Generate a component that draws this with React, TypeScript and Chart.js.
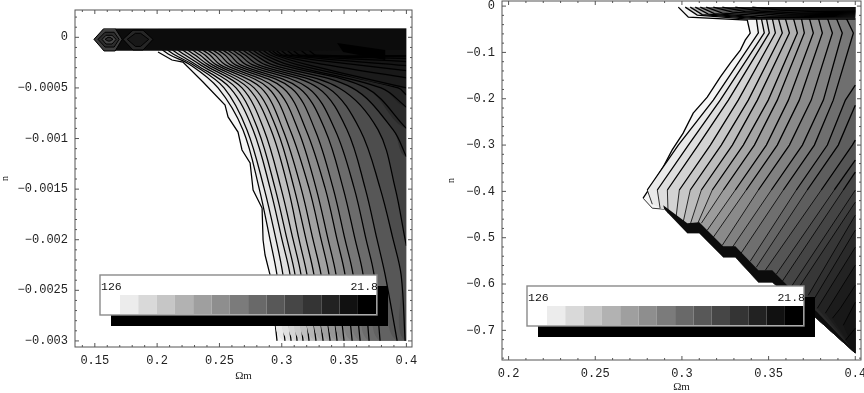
import React, { useEffect, useRef } from "react";
import { Chart, registerables } from "chart.js";

Chart.register(...registerables);

type P = [number, number];

// ---------- left panel: ticks ----------
const leftXTicks = [0.15, 0.2, 0.25, 0.3, 0.35, 0.4];
const leftXLabels = ["0.15", "0.2", "0.25", "0.3", "0.35", "0.4"];
const leftYTicks = [0, -0.0005, -0.001, -0.0015, -0.002, -0.0025, -0.003];
const leftYLabels = ["0", "\u22120.0005", "\u22120.001", "\u22120.0015", "\u22120.002", "\u22120.0025", "\u22120.003"];

// ---------- right panel: ticks ----------
const rightXTicks = [0.2, 0.25, 0.3, 0.35, 0.4];
const rightXLabels = ["0.2", "0.25", "0.3", "0.35", "0.4"];
const rightYTicks = [0, -0.1, -0.2, -0.3, -0.4, -0.5, -0.6, -0.7];
const rightYLabels = ["0", "\u22120.1", "\u22120.2", "\u22120.3", "\u22120.4", "\u22120.5", "\u22120.6", "\u22120.7"];

// ---------- colour key ----------
const keyShades = [255, 236, 217, 198, 178, 159, 142, 123, 105, 88, 70, 52, 34, 17, 0];
const keyHigh = "126";
const keyLow = "21.8";

// ---------- left panel: contours ----------
const leftOuter: P[] = [
  [0.2007, -0.000145], [0.2119, -0.000224], [0.2207, -0.000244], [0.2368, -0.000442], [0.2545, -0.000669],
  [0.2569, -0.000787], [0.2649, -0.000936], [0.2681, -0.001113], [0.2746, -0.001242], [0.277, -0.001509],
  [0.2842, -0.001687], [0.285, -0.002003], [0.2866, -0.002151], [0.2906, -0.002348], [0.2962, -0.003],
];
const leftRowN = [-0.000125, -0.000175, -0.00027, -0.0005, -0.000915, -0.00149, -0.002, -0.00235, -0.003];
const leftRows: number[][] = [
  [0.2043, 0.2103, 0.2264, 0.2489, 0.2689, 0.2818, 0.2906, 0.2962, 0.3026],
  [0.2083, 0.2143, 0.2288, 0.2537, 0.2721, 0.2858, 0.2954, 0.301, 0.3075],
  [0.2123, 0.2183, 0.2312, 0.2585, 0.277, 0.2906, 0.3002, 0.3067, 0.3123],
  [0.2164, 0.2224, 0.2344, 0.2633, 0.281, 0.2946, 0.3043, 0.3107, 0.3171],
  [0.2204, 0.2264, 0.2376, 0.2681, 0.2858, 0.2994, 0.3091, 0.3155, 0.3219],
  [0.2244, 0.2304, 0.2408, 0.2729, 0.2914, 0.3051, 0.3139, 0.3203, 0.3275],
  [0.2284, 0.2344, 0.244, 0.2778, 0.2962, 0.3099, 0.3195, 0.3259, 0.3332],
  [0.2324, 0.2384, 0.2472, 0.2834, 0.301, 0.3155, 0.3251, 0.3316, 0.3388],
  [0.2364, 0.2424, 0.2505, 0.289, 0.3067, 0.3219, 0.3316, 0.338, 0.3444],
  [0.2404, 0.2464, 0.2545, 0.2946, 0.3131, 0.3275, 0.3372, 0.3436, 0.35],
  [0.2445, 0.2505, 0.2585, 0.301, 0.3195, 0.3348, 0.3444, 0.3508, 0.3565],
  [0.2485, 0.2545, 0.2625, 0.3075, 0.3267, 0.3412, 0.3508, 0.3573, 0.3629],
  [0.2525, 0.2585, 0.2665, 0.3139, 0.3348, 0.3492, 0.3589, 0.3653, 0.3701],
  [0.2565, 0.2625, 0.2713, 0.3211, 0.3428, 0.3581, 0.3677, 0.3741, 0.3789],
  [0.2605, 0.2665, 0.2762, 0.3291, 0.3524, 0.3669, 0.3765, 0.383, 0.3926],
  [0.2645, 0.2705, 0.281, 0.3372, 0.3629, 0.3789, 0.3894, 0.3958, 0.399],
  [0.2686, 0.2746, 0.2866, 0.346, 0.3773, 0.391, 0.399],
  [0.2726, 0.2786, 0.2922, 0.3565, 0.3894],
  [0.2766, 0.2826, 0.2986, 0.3677],
  [0.2806, 0.2866, 0.3051, 0.3797],
  [0.2846, 0.2906, 0.3123, 0.3934],
  [0.2886, 0.2946, 0.3203],
  [0.2918, 0.2978, 0.3348],
  [0.295, 0.301, 0.3589],
  [0.2991, 0.3051],
  [0.3039, 0.3099],
  [0.3087, 0.3147],
  [0.3151, 0.3211],
  [0.3215, 0.3275],
];
const leftExitN: (number | null)[] = [
  null, null, null, null, null, null, null, null, null, null, null, null, null, null, null, null,
  -0.00206, -0.00118, -0.0009, -0.00069, -0.00057, -0.0005, -0.0004, -0.00033, -0.00028, -0.00024, -0.00021, -0.00019, -0.00018,
];
const leftGrays = [245, 234, 224, 213, 203, 192, 182, 171, 161, 150, 140, 129, 119, 108, 98, 87, 77, 66, 52, 42, 35, 30, 27, 25, 23, 21, 19, 17, 16, 15];
const leftTopBand: P[] = [
  [0.1493, -0.00002], [0.1576, -0.000132], [0.2007, -0.000132], [0.31, -0.000135], [0.36, -0.000125], [0.4, -0.000125],
  [0.4, 0.000089], [0.1576, 0.000089],
];
const leftLens: { gray: number; pts: P[] }[] = [
  { gray: 62, pts: [[0.1493, -0.00002], [0.1574, 0.00009], [0.1663, 0.00009], [0.1719, -0.00002], [0.1663, -0.000135], [0.1574, -0.000135]] },
  { gray: 44, pts: [[0.1526, -0.00002], [0.1582, 0.00005], [0.1655, 0.00005], [0.1695, -0.00002], [0.1655, -0.000096], [0.1582, -0.000096]] },
  { gray: 70, pts: [[0.1558, -0.00002], [0.159, 0.00002], [0.1638, 0.00002], [0.1671, -0.00002], [0.1638, -0.000066], [0.159, -0.000066]] },
  { gray: 44, pts: [[0.1582, -0.00002], [0.1606, 0], [0.1622, 0], [0.1646, -0.00002], [0.1622, -0.000037], [0.1606, -0.000037]] },
  { gray: 38, pts: [[0.1726, -0.00002], [0.1806, 0.00007], [0.1887, 0.00007], [0.1967, -0.00002], [0.1887, -0.000125], [0.1806, -0.000125]] },
  { gray: 24, pts: [[0.176, -0.00002], [0.1826, 0.00004], [0.1867, 0.00004], [0.1933, -0.00002], [0.1867, -0.00009], [0.1826, -0.00009]] },
  { gray: 0, pts: [[0.3444, -0.000056], [0.383, -0.000125], [0.383, -0.000224], [0.3492, -0.000145]] },
];

// ---------- right panel: contours ----------
const rightOuter: P[] = [
  [0.2979, -0.0022], [0.3037, -0.0238], [0.3377, -0.0302], [0.3394, -0.0583], [0.3365, -0.0734], [0.3337, -0.095],
  [0.3279, -0.1231], [0.3221, -0.1534], [0.3146, -0.1966], [0.3065, -0.2311], [0.3007, -0.2743], [0.2943, -0.311],
  [0.2891, -0.3478], [0.2845, -0.3758], [0.2776, -0.4147], [0.2829, -0.4363], [0.2898, -0.4385],
];
const rightRowN = [-0.026, -0.058, -0.203, -0.3, -0.397];
const rightOmegaA = [0.3429, 0.3458, 0.3487, 0.3521, 0.3556, 0.3596, 0.3643, 0.3689, 0.3735, 0.3787, 0.3839, 0.3891, 0.3948];
const rightOmegaB = [0.3441, 0.3475, 0.3504, 0.3539, 0.3579, 0.362, 0.3666, 0.3706, 0.3758, 0.381, 0.3868, 0.3925, 0.3989];
const rightOmegaC = [0.3181, 0.3221, 0.3268, 0.3325, 0.3383, 0.3435, 0.3498, 0.355, 0.3614, 0.3677, 0.3746, 0.3816, 0.3873, 0.3943];
const rightOmegaD = [0.2979, 0.3037, 0.3094, 0.3164, 0.3227, 0.3291, 0.3354, 0.3418, 0.3487, 0.355, 0.362, 0.3695, 0.3764, 0.3839, 0.3902, 0.3983];
const rightOmegaE = [0.28, 0.2858, 0.2916, 0.2985, 0.3048, 0.3112, 0.3175, 0.3239, 0.3308, 0.3371, 0.3441, 0.3516, 0.3585, 0.366, 0.3723, 0.3804, 0.3879, 0.3931];
const rightExitN = [-0.1706, -0.2138, -0.2894, -0.3326, -0.3586, -0.3974, -0.4234, -0.4514, -0.4838, -0.5206, -0.5594, -0.6026, -0.6394, -0.6955];
const rightEnds: P[][] = [
  [[0.2829, -0.4277]], [[0.2874, -0.4363]], [[0.292, -0.4471]], [[0.2966, -0.4558]], [[0.3007, -0.4665]], [[0.3048, -0.4709]],
  [[0.3089, -0.4709]], [[0.3112, -0.4687]], [[0.3146, -0.4838]], [[0.3181, -0.499]], [[0.3233, -0.5162]], [[0.3291, -0.5206]],
  [[0.3337, -0.5357]], [[0.3394, -0.5508]], [[0.3429, -0.5638]], [[0.3481, -0.5702]], [[0.3544, -0.5789]], [[0.3579, -0.594]],
  [[0.3625, -0.6091]], [[0.366, -0.6156]], [[0.3729, -0.6242]], [[0.3751, -0.6394]], [[0.3781, -0.6523]], [[0.3827, -0.6631]],
  [[0.3914, -0.6523], [0.3868, -0.6739]], [[0.3931, -0.689]], [[0.3943, -0.7214]],
];
const rightGrays = [245, 234, 222, 211, 199, 188, 176, 165, 156, 147, 138, 129, 120, 111, 102, 94, 85, 77, 69, 62, 55, 48, 42, 35, 28, 24, 20, 18];
const rightStairUpper: P[] = [
  [0.2892, -0.4298], [0.3031, -0.4687], [0.31, -0.4665], [0.3238, -0.5184], [0.3308, -0.5184], [0.3441, -0.5702], [0.3521, -0.5702],
  [0.3607, -0.6026], [0.3781, -0.661], [0.4, -0.7474],
];
const rightStairLower: P[] = [
  [0.2898, -0.4385], [0.3031, -0.4903], [0.31, -0.4903], [0.3238, -0.5422], [0.3308, -0.5422], [0.3441, -0.5962], [0.3521, -0.5962],
  [0.3769, -0.6718], [0.4, -0.7495],
];
const rightTop: { gray: number; pts: P[] }[] = [
  { gray: 215, pts: [[0.3019, -0.0022], [0.3088, -0.0194], [0.3382, -0.0281], [0.4, -0.0281]] },
  { gray: 185, pts: [[0.3048, -0.0022], [0.3117, -0.0184], [0.3394, -0.0259], [0.4, -0.0259]] },
  { gray: 155, pts: [[0.3077, -0.0022], [0.3152, -0.0173], [0.3423, -0.0248], [0.4, -0.0238]] },
  { gray: 125, pts: [[0.3106, -0.0022], [0.3187, -0.0162], [0.3452, -0.0238], [0.4, -0.0216]] },
  { gray: 95, pts: [[0.314, -0.0022], [0.3233, -0.0151], [0.351, -0.0216], [0.4, -0.0194]] },
  { gray: 70, pts: [[0.3181, -0.0022], [0.3291, -0.013], [0.3567, -0.0194], [0.4, -0.0173]] },
  { gray: 45, pts: [[0.3233, -0.0022], [0.3365, -0.0119], [0.3625, -0.0173], [0.4, -0.0151]] },
  { gray: 28, pts: [[0.3308, -0.0022], [0.3452, -0.0108], [0.3683, -0.0151], [0.4, -0.013]] },
  { gray: 15, pts: [[0.3406, -0.0022], [0.3567, -0.0086], [0.3769, -0.0119], [0.4, -0.0108]] },
];

const g = (v: number) => `rgb(${v},${v},${v})`;

function polygon(pts: P[], gray: number, tension = 0) {
  return {
    data: pts.map(([x, y]) => ({ x, y })),
    showLine: true,
    pointRadius: 0,
    borderWidth: 0,
    borderColor: "rgba(0,0,0,0)",
    backgroundColor: g(gray),
    fill: "shape",
    tension,
  };
}
function stroke(pts: P[], w = 1.25, tension = 0, extra: any = {}) {
  return {
    data: pts.map(([x, y]) => ({ x, y })),
    showLine: true,
    pointRadius: 0,
    borderWidth: w,
    borderColor: "#000",
    fill: false,
    tension,
    ...extra,
  };
}

function buildLeft() {
  const out: any[] = [];
  const above = 0.00025;
  const add = (line: P[], gray: number, tension: number) => {
    const first = line[0];
    const last = line[line.length - 1];
    const poly: P[] = [...line, [0.46, last[1]], [0.46, above], [first[0], above], first];
    out.push(polygon(poly, gray, tension));
    out.push(stroke(line, 1.25, tension));
  };
  add(leftOuter, leftGrays[0], 0);
  leftRows.forEach((row, k) => {
    const line: P[] = row.map((om, r) => [om, leftRowN[r]] as P);
    const e = leftExitN[k];
    if (e !== null) line.push([0.4, e]);
    add(line, leftGrays[k + 1], 0.35);
  });
  out.push(polygon([...leftTopBand, leftTopBand[0]], 12));
  leftLens.forEach((l) => {
    out.push(polygon([...l.pts, l.pts[0]], l.gray));
    out.push(stroke([...l.pts, l.pts[0]], l.gray === 0 ? 0 : 1));
  });
  return out;
}

function buildRight() {
  const out: any[] = [];
  const cornerN = -0.7495;
  const thinBelow = { segment: { borderWidth: (c: any) => (c.p0.parsed.y < -0.39 ? 0.8 : 1.3) } };
  const add = (line: P[], gray: number) => {
    const first = line[0];
    const last = line[line.length - 1];
    const under = rightStairLower.filter((p) => p[0] > last[0]);
    const poly: P[] = [...line, ...under, [0.4, cornerN], [0.4, first[1]], first];
    out.push(polygon(poly, gray));
    out.push(stroke(line, 1.3, 0, thinBelow));
  };
  add(rightOuter, rightGrays[0]);
  rightEnds.forEach((end, k) => {
    const line: P[] = [];
    if (k >= 13) line.push([0.4, rightExitN[k - 13]]);
    const cols = [rightOmegaA, rightOmegaB, rightOmegaC, rightOmegaD, rightOmegaE];
    cols.forEach((c, r) => {
      if (k < c.length) line.push([c[k], rightRowN[r]]);
    });
    line.push(...end);
    add(line, rightGrays[k + 1]);
  });
  const stair: P[] = [...rightStairUpper, ...[...rightStairLower].reverse()];
  out.push(polygon([...stair, stair[0]], 12));
  rightTop.forEach((t) => {
    out.push(polygon([...t.pts, [0.4, -0.0022], t.pts[0]], t.gray));
    out.push(stroke(t.pts));
  });
  return out;
}

const framePlugin = {
  id: "frameAndKey",
  afterDatasetsDraw(chart: any, _a: any, o: any) {
    const { ctx, chartArea: ca, scales } = chart;
    const xs = scales.x;
    const ys = scales.y;
    ctx.save();
    // trim the bands to the plotted domain
    if (o.domain) {
      const r = xs.getPixelForValue(o.domain.xMax);
      const t = ys.getPixelForValue(o.domain.yMax);
      const b = ys.getPixelForValue(o.domain.yMin);
      ctx.fillStyle = "#fff";
      ctx.fillRect(r, ca.top, ca.right - r, ca.bottom - ca.top);
      ctx.fillRect(ca.left, ca.top, ca.right - ca.left, t - ca.top);
      ctx.fillRect(ca.left, b, ca.right - ca.left, ca.bottom - b);
    }
    // colour key
    const { keyLeft: L, keyTop: T } = o;
    ctx.fillStyle = "#000";
    ctx.fillRect(L + 11, T + 11, 277, 40);
    ctx.fillStyle = "#fff";
    ctx.fillRect(L, T, 277, 40);
    const sw = 18.3;
    keyShades.forEach((s, i) => {
      ctx.fillStyle = g(s);
      const x0 = i === 0 ? L + 2 : L + 20 + (i - 1) * sw;
      const wd = i === 0 ? 18 : sw;
      ctx.fillRect(x0, T + 20, wd, 19);
    });
    ctx.strokeStyle = "#8a8a8a";
    ctx.lineWidth = 1.4;
    ctx.strokeRect(L, T, 277, 40);
    ctx.fillStyle = "#111";
    ctx.font = '11.5px "Liberation Mono"';
    ctx.textBaseline = "middle";
    ctx.textAlign = "left";
    ctx.fillText(keyHigh, L + 1, T + 12);
    ctx.textAlign = "right";
    ctx.fillText(keyLow, L + 278, T + 12);
    // frame
    ctx.strokeStyle = "#555";
    ctx.lineWidth = 1;
    ctx.strokeRect(ca.left, ca.top, ca.right - ca.left, ca.bottom - ca.top);
    const tick = (x0: number, y0: number, x1: number, y1: number) => {
      ctx.beginPath();
      ctx.moveTo(x0, y0);
      ctx.lineTo(x1, y1);
      ctx.stroke();
    };
    const walk = (min: number, max: number, step: number, fn: (v: number, major: boolean) => void) => {
      const n0 = Math.ceil(min / step);
      const n1 = Math.floor(max / step);
      for (let n = n0; n <= n1; n++) fn(n * step, Math.abs(n % 5) === 0);
    };
    walk(xs.min, xs.max, 0.01, (v, major) => {
      const p = xs.getPixelForValue(v);
      const l = major ? 4 : 2;
      tick(p, ca.bottom, p, ca.bottom - l);
      tick(p, ca.top, p, ca.top + l);
    });
    walk(ys.min, ys.max, o.yMinor, (v, major) => {
      const p = ys.getPixelForValue(v);
      const l = major ? 4 : 2;
      tick(ca.left, p, ca.left + l, p);
      tick(ca.right, p, ca.right - l, p);
    });
    ctx.restore();
  },
};

function makeChart(canvas: HTMLCanvasElement, cfg: any) {
  const sets = cfg.datasets.map((d: any, i: number, arr: any[]) => ({ ...d, order: arr.length - i }));
  const axisFont = { family: '"Liberation Mono"', size: 12 };
  return new Chart(canvas, {
    type: "scatter",
    data: { datasets: sets },
    plugins: [framePlugin],
    options: {
      animation: false,
      responsive: false,
      events: [],
      layout: { padding: cfg.padding },
      plugins: {
        legend: { display: false },
        tooltip: { enabled: false },
        filler: { propagate: false },
        frameAndKey: { keyLeft: cfg.keyLeft, keyTop: cfg.keyTop, yMinor: cfg.yMinor, domain: cfg.domain },
      } as any,
      scales: {
        x: {
          type: "linear",
          min: cfg.xMin,
          max: cfg.xMax,
          grid: { display: false, drawTicks: false },
          border: { display: false },
          afterBuildTicks: (s: any) => {
            s.ticks = cfg.xTicks.map((value: number) => ({ value }));
          },
          afterFit: (s: any) => {
            s.height = cfg.bottomH;
            s.paddingLeft = s.paddingRight = s.paddingTop = s.paddingBottom = 0;
          },
          ticks: {
            autoSkip: false,
            maxRotation: 0,
            padding: cfg.xPad,
            color: "#222",
            font: axisFont,
            callback: (_v: any, i: number) => cfg.xLabels[i],
          },
          title: {
            display: true,
            text: "\u03a9m",
            color: "#222",
            font: { family: '"Liberation Serif"', size: 11, lineHeight: 1 },
            padding: { top: 0, bottom: cfg.titleBottom },
          },
        },
        y: {
          type: "linear",
          min: cfg.yMin,
          max: cfg.yMax,
          grid: { display: false, drawTicks: false },
          border: { display: false },
          afterBuildTicks: (s: any) => {
            s.ticks = cfg.yTicks.map((value: number) => ({ value }));
          },
          afterFit: (s: any) => {
            s.width = cfg.leftW;
            s.paddingLeft = s.paddingRight = s.paddingTop = s.paddingBottom = 0;
          },
          ticks: {
            autoSkip: false,
            padding: 7,
            color: "#222",
            font: axisFont,
            callback: (_v: any, i: number) => cfg.yLabels[i],
          },
          title: {
            display: true,
            text: "n",
            color: "#222",
            font: { family: '"Liberation Serif"', size: 10, lineHeight: 1 },
            padding: { top: cfg.titleLeft, bottom: 0 },
          },
        },
      },
    } as any,
  });
}

export default function App() {
  const a = useRef<HTMLCanvasElement>(null);
  const b = useRef<HTMLCanvasElement>(null);
  useEffect(() => {
    const c1 = makeChart(a.current!, {
      datasets: buildLeft(),
      padding: { left: 0, top: 10, right: 20, bottom: 0 },
      leftW: 75,
      bottomH: 46,
      xMin: 0.1341,
      xMax: 0.4045,
      yMin: -0.00306,
      yMax: 0.00027,
      xTicks: leftXTicks,
      xLabels: leftXLabels,
      yTicks: leftYTicks,
      yLabels: leftYLabels,
      xPad: 7,
      titleBottom: 11,
      titleLeft: 0,
      keyLeft: 100,
      keyTop: 275,
      yMinor: 0.0001,
      domain: { xMax: 0.4, yMax: 0.000089, yMin: -0.003 },
    });
    const c2 = makeChart(b.current!, {
      datasets: buildRight(),
      padding: { left: 0, top: 1, right: 3, bottom: 0 },
      leftW: 70,
      bottomH: 33,
      xMin: 0.1962,
      xMax: 0.4033,
      yMin: -0.764,
      yMax: 0.011,
      xTicks: rightXTicks,
      xLabels: rightXLabels,
      yTicks: rightYTicks,
      yLabels: rightYLabels,
      xPad: 7,
      titleBottom: 0,
      titleLeft: 14,
      keyLeft: 95,
      keyTop: 286,
      yMinor: 0.02,
    });
    return () => {
      c1.destroy();
      c2.destroy();
    };
  }, []);
  return (
    <div style={{ position: "fixed", left: 0, top: 0, width: 864, height: 393, background: "#fff", overflow: "hidden" }}>
      <canvas ref={a} width={432} height={393} style={{ position: "absolute", left: 0, top: 0, width: 432, height: 393, filter: "blur(0.3px)" }} />
      <canvas ref={b} width={432} height={393} style={{ position: "absolute", left: 432, top: 0, width: 432, height: 393, filter: "blur(0.3px)" }} />
    </div>
  );
}
